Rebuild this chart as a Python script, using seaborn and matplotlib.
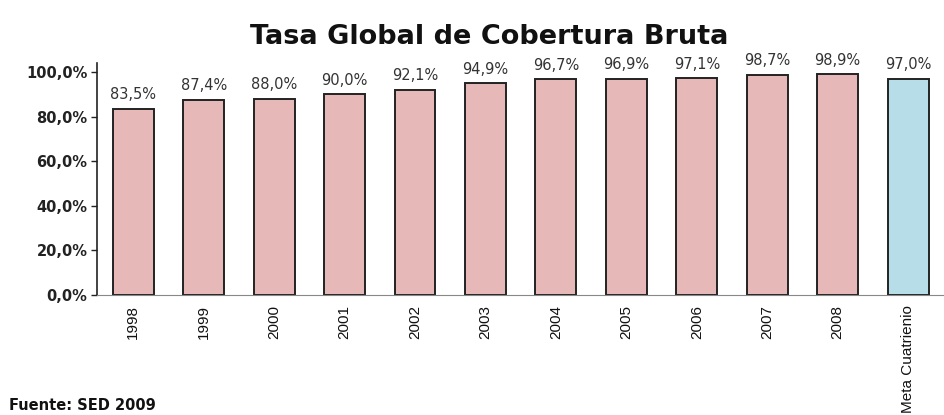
import pandas as pd
import numpy as np
import matplotlib
matplotlib.use('Agg')
import matplotlib.pyplot as plt
import seaborn as sns
from matplotlib.ticker import FuncFormatter

sns.set_style('white')
plt.rcParams['font.family'] = ['DejaVu Sans']

# data
categories = ['1998', '1999', '2000', '2001', '2002', '2003', '2004',
              '2005', '2006', '2007', '2008', 'Meta Cuatrienio']
values = [83.5, 87.4, 88.0, 90.0, 92.1, 94.9, 96.7, 96.9, 97.1, 98.7, 98.9, 97.0]
colors = ['#E6B8B7'] * 11 + ['#B7DDE8']

df = pd.DataFrame({'cat': categories, 'val': values})

fig = plt.figure(figsize=(9.45, 4.15), dpi=100)
ax = fig.add_axes([0.103, 0.289, 0.896, 0.559])

sns.barplot(data=df, x='cat', y='val', hue='cat', palette=colors, legend=False,
            width=0.58, edgecolor='#222222', linewidth=1.4, saturation=1, ax=ax)

# value labels
for i, v in enumerate(values):
    ax.text(i, v + 3.0, f'{v:.1f}%'.replace('.', ','), ha='center', va='bottom',
            fontsize=10.5, color='#333333')

ax.set_xlim(-0.51, 11.51)
ax.set_ylim(0, 104)
ax.set_yticks(np.arange(0, 101, 20))
ax.yaxis.set_major_formatter(FuncFormatter(lambda y, p: f'{y:.1f}%'.replace('.', ',')))
for lab in ax.get_yticklabels():
    lab.set_fontweight('bold')
    lab.set_fontsize(10.5)
    lab.set_color('#222222')
ax.tick_params(axis='y', length=4, width=1, color='#222222', left=True, pad=3)
ax.tick_params(axis='x', length=0, pad=7)
ax.set_xticks(range(len(categories)))
ax.set_xticklabels(categories, rotation=90, fontsize=11, family='Liberation Sans',
                   color='#111111')
ax.set_xlabel('')
ax.set_ylabel('')

sns.despine(ax=ax, top=True, right=True)
ax.spines['left'].set_color('#222222')
ax.spines['left'].set_linewidth(1.2)
ax.spines['bottom'].set_color('#888888')

fig.text(0.518, 0.91, 'Tasa Global de Cobertura Bruta', ha='center', va='center',
         fontsize=19.5, fontweight='bold', color='#111111')
fig.text(0.01, 0.006, 'Fuente: SED 2009', ha='left', va='bottom',
         fontsize=10.5, fontweight='bold', color='#111111')

plt.savefig('out.png', dpi=100)
